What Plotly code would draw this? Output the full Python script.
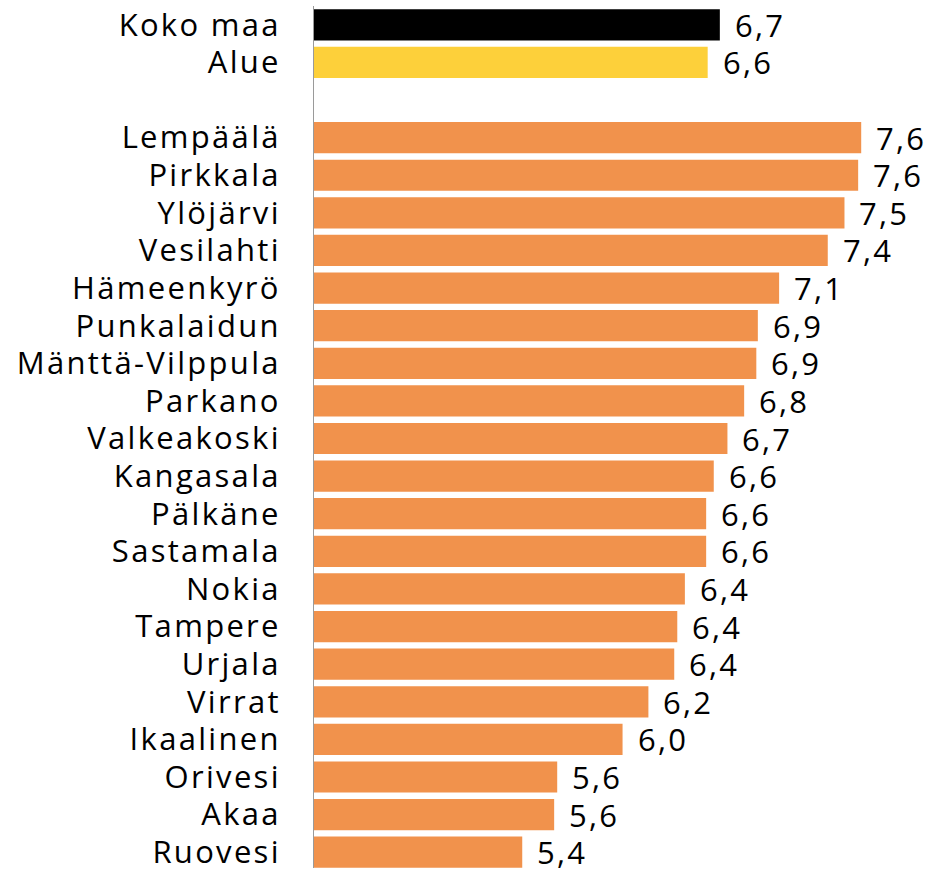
import plotly.graph_objects as go

categories = ["Koko maa", "Alue", " ", "Lempäälä", "Pirkkala", "Ylöjärvi", "Vesilahti",
              "Hämeenkyrö", "Punkalaidun", "Mänttä-Vilppula", "Parkano", "Valkeakoski",
              "Kangasala", "Pälkäne", "Sastamala", "Nokia", "Tampere", "Urjala", "Virrat",
              "Ikaalinen", "Orivesi", "Akaa", "Ruovesi"]
values = [6.67, 6.59, None, 7.60, 7.58, 7.49, 7.38, 7.06, 6.92, 6.91, 6.83, 6.72,
          6.63, 6.58, 6.58, 6.44, 6.39, 6.37, 6.20, 6.03, 5.60, 5.58, 5.37]

BLACK = "#000000"
YELLOW = "#FDD03A"
ORANGE = "#F1924C"
colors = [BLACK, YELLOW, ORANGE] + [ORANGE] * (len(categories) - 3)

FONT = "Open Sans"
FS = 31

fig = go.Figure()
fig.add_trace(go.Bar(
    x=[v - 4 if v is not None else None for v in values],
    base=4,
    y=categories,
    orientation="h",
    marker=dict(color=colors, line=dict(width=0)),
    hoverinfo="skip",
    cliponaxis=False,
))

for c, v in zip(categories, values):
    if v is None:
        continue
    fig.add_annotation(
        x=v, y=c, xref="x", yref="y",
        text=f"{v:.1f}".replace(".", ","),
        showarrow=False, xanchor="left", yanchor="middle", align="left",
        xshift=13, font=dict(family=FONT, size=FS, color="black"),
    )

fig.update_layout(
    width=931, height=872,
    margin=dict(l=314, r=9, t=6, b=0),
    plot_bgcolor="white", paper_bgcolor="white",
    bargap=0.17,
    showlegend=False,
    font=dict(family=FONT, size=FS, color="black"),
)
fig.update_xaxes(range=[4, 8], visible=False, showgrid=False, zeroline=False)
fig.update_yaxes(
    categoryorder="array", categoryarray=categories,
    range=[22.42, -0.5],
    showline=True, linecolor="#9a9a9a", linewidth=1,
    showgrid=False, ticks="", ticklabelstandoff=26,
    tickfont=dict(family=FONT, size=FS, color="black"),
)

post = ("document.body.style.margin='0';"
        "var s=document.createElement('style');"
        "s.innerHTML='.main-svg text{letter-spacing:2.3px;}';"
        "document.head.appendChild(s);")
fig.write_html("out.html", post_script=post, config={"displayModeBar": False})
